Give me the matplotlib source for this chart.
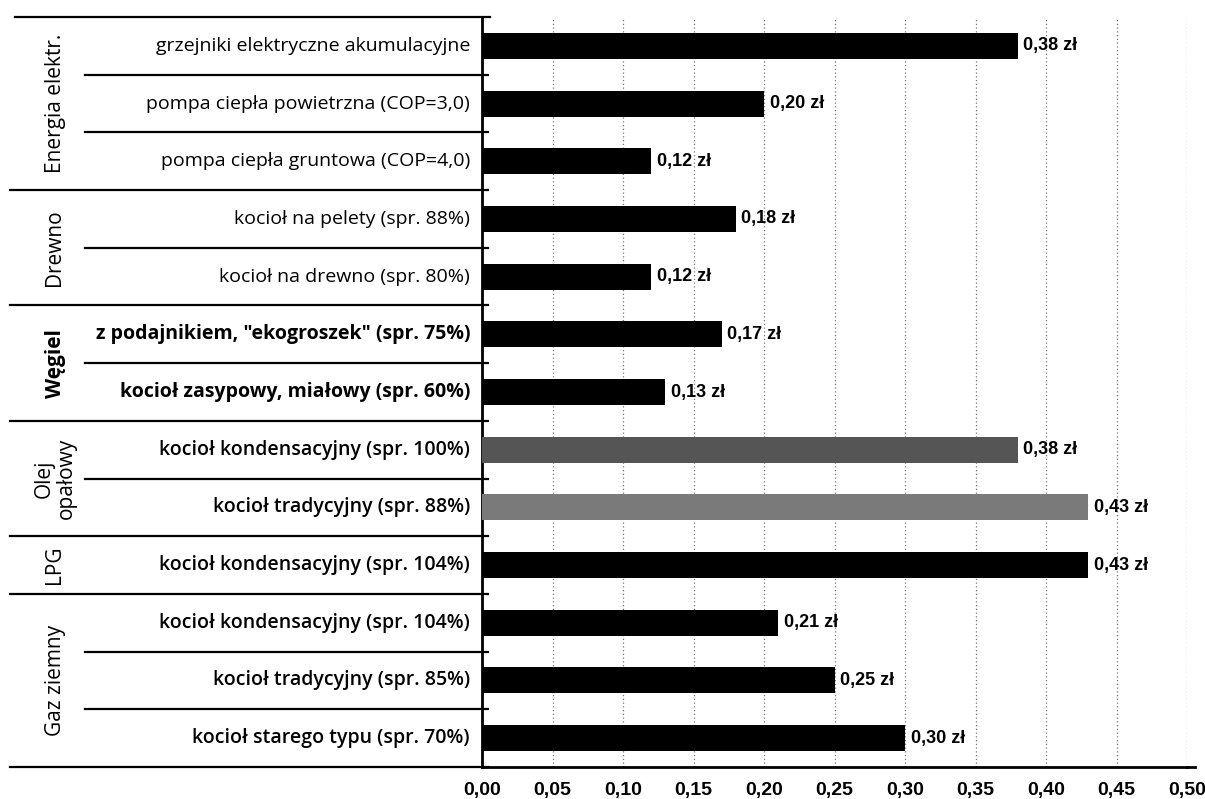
import matplotlib
matplotlib.use("Agg")
import matplotlib.pyplot as plt
from matplotlib.transforms import blended_transform_factory

# ---- data ----
categories = [
    "grzejniki elektryczne akumulacyjne",
    "pompa ciepła powietrzna (COP=3,0)",
    "pompa ciepła gruntowa (COP=4,0)",
    "kocioł na pelety (spr. 88%)",
    "kocioł na drewno (spr. 80%)",
    "z podajnikiem, \"ekogroszek\" (spr. 75%)",
    "kocioł zasypowy, miałowy (spr. 60%)",
    "kocioł kondensacyjny (spr. 100%)",
    "kocioł tradycyjny (spr. 88%)",
    "kocioł kondensacyjny (spr. 104%)",
    "kocioł kondensacyjny (spr. 104%)",
    "kocioł tradycyjny (spr. 85%)",
    "kocioł starego typu (spr. 70%)",
]
values = [0.38, 0.20, 0.12, 0.18, 0.12, 0.17, 0.13, 0.38, 0.43, 0.43, 0.21, 0.25, 0.30]
groups = ["Energia elektr.", "Drewno", "Węgiel", "Olej\nopałowy", "LPG", "Gaz ziemny"]
group_sizes = [3, 2, 2, 2, 1, 3]
xticks = [0.00, 0.05, 0.10, 0.15, 0.20, 0.25, 0.30, 0.35, 0.40, 0.45, 0.50]
xtick_labels = ["0,00", "0,05", "0,10", "0,15", "0,20", "0,25", "0,30", "0,35", "0,40", "0,45", "0,50"]

bar_colors = ["#000000"] * 7 + ["#555555", "#7a7a7a"] + ["#000000"] * 4
label_weights = ["normal"] * 5 + ["bold"] * 2 + ["semibold"] * 6

W, H = 1205, 799
fig = plt.figure(figsize=(W / 100, H / 100), dpi=100)
ax = fig.add_axes([482 / W, 1 - 767 / H, (1187 - 482) / W, (767 - 17) / H])

n = len(categories)
ypos = list(range(n))
ax.barh(ypos, values, height=0.45, color=bar_colors, zorder=3)
ax.set_ylim(n - 0.5, -0.5)
ax.set_xlim(0, 0.5)

# grid
for t in xticks[1:]:
    ax.axvline(t, color="#777777", lw=0.9, ls=(0, (1, 2)), zorder=1)

ax.set_xticks(xticks)
ax.set_xticklabels(xtick_labels)
cond = ["Liberation Sans Narrow", "Liberation Sans", "DejaVu Sans"]
for lab in ax.get_xticklabels():
    lab.set_fontfamily(cond)
    lab.set_fontweight("bold")
    lab.set_fontsize(14)
ax.tick_params(axis="x", length=0, pad=11)
ax.set_yticks([])
for s in ["top", "right"]:
    ax.spines[s].set_visible(False)
ax.spines["left"].set_linewidth(2)
ax.spines["bottom"].set_linewidth(2)

# value labels
for y, v in zip(ypos, values):
    ax.text(v + 0.004, y, f"{v:.2f}".replace(".", ",") + " zł", va="center", ha="left",
            fontsize=13, fontweight="bold", family=cond)

# left table
tr = blended_transform_factory(fig.transFigure, ax.transData)
txt_family = ["Open Sans", "DejaVu Sans"]
for y, c, w in zip(ypos, categories, label_weights):
    ax.text(470 / W, y, c, transform=tr, ha="right", va="center", fontsize=14,
            fontweight=w, family=txt_family)

# lines
start = 0
bounds = []
for g, sz in zip(groups, group_sizes):
    for k in range(1, sz):
        yb = start + k - 0.5
        ax.plot([85 / W, 488 / W], [yb, yb], transform=tr, color="black", lw=1.6, clip_on=False)
    mid = start + (sz - 1) / 2
    wt = "bold" if g == "Węgiel" else "normal"
    ax.text(55 / W, mid, g, transform=tr, rotation=90, ha="center", va="center",
            fontsize=15, fontweight=wt, family=txt_family, linespacing=1.05,
            multialignment="center")
    start += sz
    bounds.append(start - 0.5)

ax.plot([15 / W, 490 / W], [-0.5, -0.5], transform=tr, color="black", lw=1.6, clip_on=False)
for yb in bounds:
    ax.plot([10 / W, 488 / W], [yb, yb], transform=tr, color="black", lw=1.6, clip_on=False)
ax.plot([1187 / W, 1195 / W], [n - 0.5, n - 0.5], transform=tr, color="black", lw=2, clip_on=False)

fig.savefig("out.png", dpi=100)
